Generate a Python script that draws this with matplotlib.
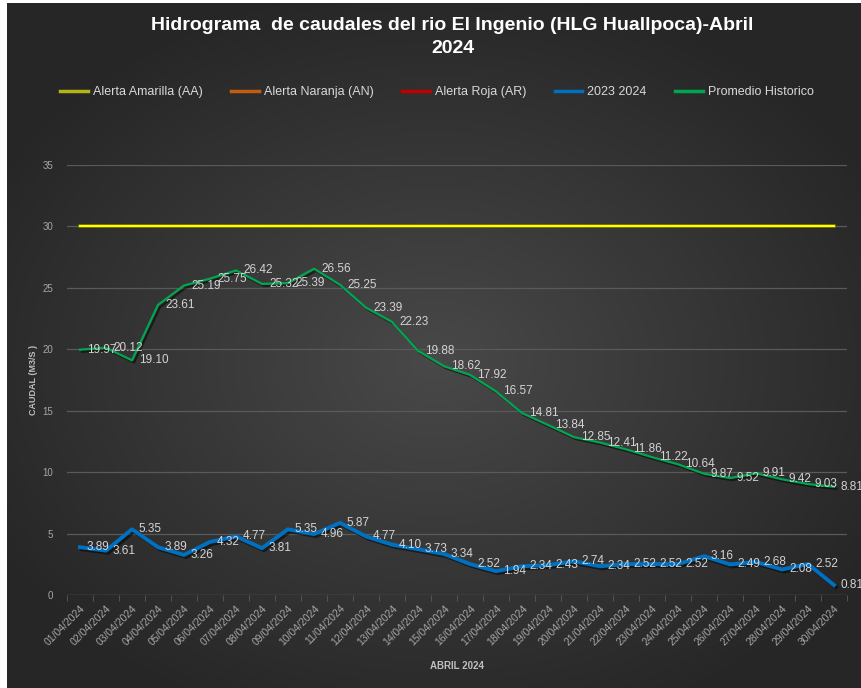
"""
Hidrograma de caudales - rio El Ingenio (HLG Huallpoca), abril 2024
"""
import matplotlib
matplotlib.use('Agg')
import matplotlib.pyplot as plt
import matplotlib.patheffects as pe
import numpy as np

plt.rcParams['font.family'] = ['Liberation Sans', 'DejaVu Sans']

# ---- data ----
dias = ['%02d/04/2024' % d for d in range(1, 31)]

alerta_amarilla = [30] * 30
alerta_naranja = []   # not visible inside the axis range
alerta_roja = []      # not visible inside the axis range

caudal_2023_2024 = [3.89, 3.61, 5.35, 3.89, 3.26, 4.32, 4.77, 3.81, 5.35, 4.96,
                    5.87, 4.77, 4.10, 3.73, 3.34, 2.52, 1.94, 2.34, 2.43, 2.74,
                    2.34, 2.52, 2.52, 2.52, 3.16, 2.49, 2.68, 2.08, 2.52, 0.81]

promedio_historico = [19.97, 20.12, 19.10, 23.61, 25.19, 25.75, 26.42, 25.32, 25.39, 26.56,
                      25.25, 23.39, 22.23, 19.88, 18.62, 17.92, 16.57, 14.81, 13.84, 12.85,
                      12.41, 11.86, 11.22, 10.64, 9.87, 9.52, 9.91, 9.42, 9.03, 8.81]

x = np.arange(len(dias))

fig = plt.figure(figsize=(8.62, 6.88), dpi=100)
fig.patch.set_facecolor('white')

# dark radial-gradient background (chart area)
bg = fig.add_axes([7 / 862, 0, 855 / 862, 685 / 688], zorder=-10)
gx, gy = np.meshgrid(np.linspace(-1, 1, 400), np.linspace(-1, 1, 320))
r = np.sqrt((gx * 0.95) ** 2 + (gy - 0.05) ** 2)
shade = np.clip(0.285 - 0.12 * r, 0.15, 0.29)
bg.imshow(np.dstack([shade] * 3), aspect='auto', extent=[0, 1, 0, 1])
bg.axis('off')

ax = fig.add_axes([67 / 862, 1 - 595 / 688, 780 / 862, 430 / 688])
ax.set_facecolor('none')

# series
shadow = [pe.SimpleLineShadow(offset=(1.5, -1.5), alpha=0.5, shadow_color='black'), pe.Normal()]
ax.plot(x, alerta_amarilla, color='#ffff00', lw=1.6, label='Alerta Amarilla (AA)',
        path_effects=[pe.Stroke(linewidth=2.6, foreground='#6b6b00'), pe.Normal()], zorder=3)
ax.plot(x[:len(alerta_naranja)], alerta_naranja, color='#c55a11', lw=2.2, label='Alerta Naranja (AN)')
ax.plot(x[:len(alerta_roja)], alerta_roja, color='#c00000', lw=2.2, label='Alerta Roja (AR)')
ax.plot(x, caudal_2023_2024, color='#0070c0', lw=2.8, label='2023 2024',
        path_effects=shadow, zorder=4)
ax.plot(x, promedio_historico, color='#00a650', lw=1.6, label='Promedio Historico',
        path_effects=shadow, zorder=4)

# data labels (right of the point)
for serie in (caudal_2023_2024, promedio_historico):
    for xi, v in zip(x, serie):
        ax.annotate('%.2f' % v, (xi, v), xytext=(5, 0), textcoords='offset points',
                    ha='left', va='center', fontsize=8.5, color='#d4d4d4', zorder=6,
                    annotation_clip=False)

# axes
ax.set_xlim(-0.5, len(dias) - 0.5)
ax.set_ylim(0, 35)
ax.set_yticks(range(0, 36, 5))
ax.grid(True, axis='y', color='#5a5a5a', lw=0.9)
ax.set_axisbelow(True)
for s in ax.spines.values():
    s.set_visible(False)
ax.axhline(0, color='#5a5a5a', lw=0.9, zorder=1)

ax.set_xticks(x)
ax.set_xticklabels(dias, rotation=45, ha='right', rotation_mode='anchor', fontsize=7.5, color='#a6a6a6')
ax.set_xticks(np.arange(-0.5, len(dias), 1), minor=True)
ax.tick_params(axis='x', which='major', length=0, pad=6)
ax.tick_params(axis='x', which='minor', length=4, color='#5a5a5a')
ax.tick_params(axis='y', length=0, pad=10, labelsize=7, labelcolor='#a6a6a6')

ax.set_ylabel('CAUDAL (M3/S )', fontsize=6.5, fontweight='bold', color='#bfbfbf', labelpad=3)
ax.set_xlabel('ABRIL 2024', fontsize=7, fontweight='bold', color='#bfbfbf', labelpad=10)

# title + legend
fig.text(0.525, 1 - 37 / 688, 'Hidrograma  de caudales del rio El Ingenio (HLG Huallpoca)-Abril\n2024',
         ha='center', va='center', fontsize=14, fontweight='bold', color='white',
         linespacing=1.5)

leg = fig.legend(loc='center', bbox_to_anchor=(0.507, 1 - 92 / 688), ncol=5, frameon=False,
                 fontsize=9, handlelength=2.2, columnspacing=2.3, handletextpad=0.4)
leg_colors = ['#b3b31a', '#c55a11', '#c00000', '#0070c0', '#00a650']
for h, c in zip(leg.legend_handles, leg_colors):
    h.set_color(c)
    h.set_linewidth(2.5)
    h.set_path_effects([])
for t in leg.get_texts():
    t.set_color('#d9d9d9')

fig.savefig('out.png', dpi=100)
